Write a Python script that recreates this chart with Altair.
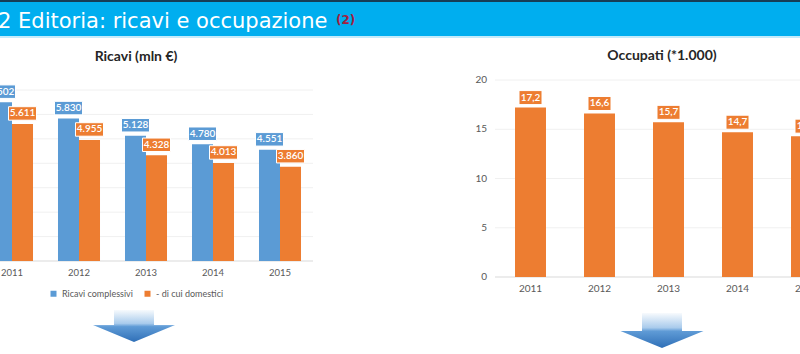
import altair as alt
import pandas as pd

# ---------------- data ----------------
years = [2011, 2012, 2013, 2014, 2015]
series_names = ["Ricavi complessivi", "- di cui domestici"]
ricavi_complessivi = [6502, 5830, 5128, 4780, 4551]
ricavi_domestici = [5611, 4955, 4328, 4013, 3860]
occupati = [17.2, 16.6, 15.7, 14.7, 14.3]
ricavi_ticks = [0, 1000, 2000, 3000, 4000, 5000, 6000, 7000]
occupati_ticks = [0, 5, 10, 15, 20]

header_title = "2 Editoria: ricavi e occupazione"
header_note = "(2)"
title_ricavi = "Ricavi (mln €)"
title_occupati = "Occupati (*1.000)"

# ---------------- style ----------------
BLUE = "#5b9bd5"
ORANGE = "#ed7d31"
GRAY = "#595959"
FONT = "Lato"

ricavi_df = pd.DataFrame({
    "year": years * 2,
    "series": [series_names[0]] * len(years) + [series_names[1]] * len(years),
    "value": ricavi_complessivi + ricavi_domestici,
})
occ_df = pd.DataFrame({"year": years, "value": occupati})
one = pd.DataFrame({"k": [0]})

color_scale = alt.Scale(domain=series_names, range=[BLUE, ORANGE])

# ---------------- header ----------------
hdr_dark = alt.Chart(one).mark_rect(color="#163d57").encode(
    x=alt.value(0), x2=alt.value(800), y=alt.value(0), y2=alt.value(2))
hdr_band = alt.Chart(one).mark_rect(color="#00aeef").encode(
    x=alt.value(0), x2=alt.value(800), y=alt.value(2), y2=alt.value(36))
hdr_line = alt.Chart(one).mark_rect(color="#c4ebfb").encode(
    x=alt.value(0), x2=alt.value(800), y=alt.value(36), y2=alt.value(38))
hdr_text = alt.Chart(one).mark_text(
    text=header_title, font="DejaVu Sans", fontSize=21, color="white",
    align="left", baseline="alphabetic").encode(x=alt.value(-2), y=alt.value(28))
hdr_note = alt.Chart(one).mark_text(
    text=header_note, font="DejaVu Sans", fontSize=12, fontWeight="bold",
    color="#a3203f", align="left", baseline="alphabetic").encode(
    x=alt.value(336), y=alt.value(24))
header = alt.layer(hdr_dark, hdr_band, hdr_line, hdr_text, hdr_note)

ARROW_GRAD = alt.Gradient(
    gradient="linear", x1=0, x2=0, y1=0, y2=1,
    stops=[alt.GradientStop(color="#f7fafd", offset=0),
           alt.GradientStop(color="#a9cbec", offset=0.42),
           alt.GradientStop(color="#5f9bd6", offset=0.52),
           alt.GradientStop(color="#2f6fb7", offset=1)])

# ---------------- left chart: Ricavi ----------------
xL = alt.Scale(domain=years, range=[-21.5, 313.5], paddingInner=0.373, paddingOuter=0.1865)
yL = alt.Scale(domain=[0, 7000], range=[261, 90])
offL = alt.Scale(domain=series_names, paddingInner=0, paddingOuter=0)

grid_L = alt.Chart(pd.DataFrame({"tick": ricavi_ticks})).mark_rule(strokeWidth=1).encode(
    y=alt.Y("tick:Q", scale=yL, axis=None),
    x=alt.value(0), x2=alt.value(313),
    color=alt.condition("datum.tick == 0", alt.value("#d9d9d9"), alt.value("#f0f0f0")))

baseL = alt.Chart(ricavi_df)
enc_L = dict(
    x=alt.X("year:O", scale=xL, axis=None),
    xOffset=alt.XOffset("series:N", scale=offL),
    y=alt.Y("value:Q", scale=yL, axis=None),
)
bars_L = baseL.mark_bar().encode(
    color=alt.Color("series:N", scale=color_scale, sort=series_names,
                    legend=alt.Legend(orient="none", legendX=49, legendY=289,
                                      direction="horizontal", title=None,
                                      symbolType="square", symbolSize=36,
                                      symbolStrokeWidth=0,
                                      labelFont=FONT, labelFontSize=9,
                                      labelColor=GRAY, columnPadding=10,
                                      labelOffset=4)),
    **enc_L)
RECT_L = "M -1 -0.4815 L 1 -0.4815 L 1 0.4815 L -1 0.4815 Z"
box_L = baseL.mark_point(shape=RECT_L, size=784, filled=True, opacity=1,
                         stroke="white", strokeWidth=1, yOffset=-10.5).encode(
    fill=alt.Fill("series:N", scale=color_scale, legend=None), **enc_L)
text_L = baseL.transform_calculate(
    label="replace(format(datum.value, ','), ',', '.')"
).mark_text(font=FONT, fontSize=10, fontWeight=600, color="white", baseline="middle",
            yOffset=-10.5).encode(text="label:N", **enc_L)
years_L = alt.Chart(pd.DataFrame({"year": years})).mark_text(
    font=FONT, fontSize=9.5, color=GRAY, baseline="middle").encode(
    x=alt.X("year:O", scale=xL, axis=None), y=alt.value(273), text="year:O")
title_L = alt.Chart(one).mark_text(
    text=title_ricavi, font=FONT, fontSize=14, fontWeight="bold", color="#262626",
    baseline="middle").encode(x=alt.value(136), y=alt.value(57))
arrow_L = alt.Chart(one).mark_point(
    shape="M -0.488 -0.39 L 0.488 -0.39 L 0.488 -0.024 L 1 -0.024 L 0 0.39 L -1 -0.024 L -0.488 -0.024 Z",
    size=6724, filled=True, opacity=1, fill=ARROW_GRAD, strokeWidth=0).encode(
    x=alt.value(134), y=alt.value(326))
left = alt.layer(grid_L, bars_L, box_L, text_L, years_L, title_L, arrow_L)

# ---------------- right chart: Occupati ----------------
xR = alt.Scale(domain=years, range=[496, 841], paddingInner=0.551, paddingOuter=0.2755)
yR = alt.Scale(domain=[0, 20], range=[277, 80])

tick_df = pd.DataFrame({"tick": occupati_ticks})
grid_R = alt.Chart(tick_df).mark_rule(strokeWidth=1).encode(
    y=alt.Y("tick:Q", scale=yR, axis=None),
    x=alt.value(495), x2=alt.value(800),
    color=alt.condition("datum.tick == 0", alt.value("#d9d9d9"), alt.value("#f0f0f0")))
ticklab_R = alt.Chart(tick_df).mark_text(
    font=FONT, fontSize=10, color=GRAY, align="right", baseline="middle").encode(
    y=alt.Y("tick:Q", scale=yR, axis=None), x=alt.value(487), text="tick:Q")

baseR = alt.Chart(occ_df)
enc_R = dict(x=alt.X("year:O", scale=xR, axis=None),
             y=alt.Y("value:Q", scale=yR, axis=None))
bars_R = baseR.mark_bar(color=ORANGE).encode(**enc_R)
RECT_R = "M -1 -0.6087 L 1 -0.6087 L 1 0.6087 L -1 0.6087 Z"
box_R = baseR.mark_point(shape=RECT_R, size=529, filled=True, opacity=1,
                         fill=ORANGE, stroke="white", strokeWidth=1,
                         yOffset=-10).encode(**enc_R)
text_R = baseR.transform_calculate(
    label="replace(format(datum.value, '.1f'), '.', ',')"
).mark_text(font=FONT, fontSize=10, fontWeight=600, color="white", baseline="middle",
            yOffset=-10).encode(text="label:N", **enc_R)
years_R = alt.Chart(pd.DataFrame({"year": years})).mark_text(
    font=FONT, fontSize=10, color=GRAY, baseline="middle").encode(
    x=alt.X("year:O", scale=xR, axis=None), y=alt.value(289), text="year:O")
title_R = alt.Chart(one).mark_text(
    text=title_occupati, font=FONT, fontSize=14, fontWeight="bold", color="#262626",
    baseline="middle").encode(x=alt.value(662), y=alt.value(56))
arrow_R = alt.Chart(one).mark_point(
    shape="M -0.482 -0.42 L 0.482 -0.42 L 0.482 0.012 L 1 0.012 L 0 0.42 L -1 0.012 L -0.482 0.012 Z",
    size=6889, filled=True, opacity=1, fill=ARROW_GRAD, strokeWidth=0).encode(
    x=alt.value(662), y=alt.value(330.5))
right = alt.layer(grid_R, ticklab_R, bars_R, box_R, text_R, years_R, title_R, arrow_R)

chart = alt.layer(header, left, right).resolve_scale(
    x="independent", y="independent", color="independent", fill="independent"
).properties(
    width=800, height=354, padding=0,
    autosize=alt.AutoSizeParams(type="none"),
    background="white",
).configure_view(strokeWidth=0)

chart.save("out.html", embed_options={"renderer": "svg", "actions": False})
